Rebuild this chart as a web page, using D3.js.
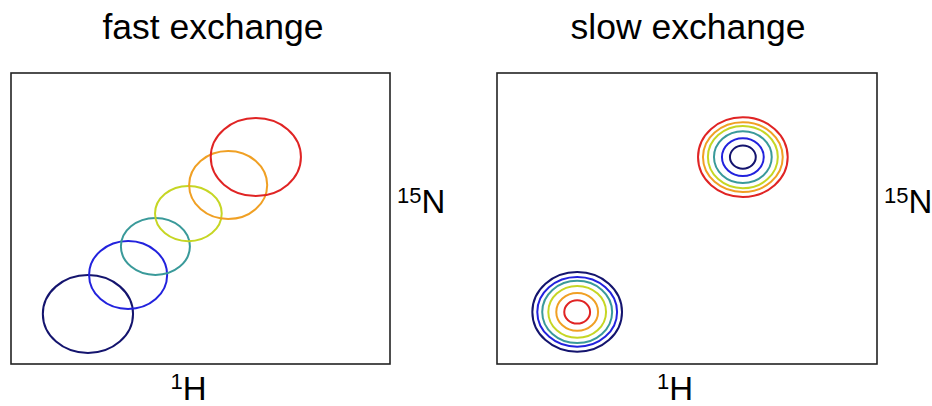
<!DOCTYPE html>
<html lang="en">
<head>
<meta charset="UTF-8">
<title>fast / slow exchange</title>
<script src="https://cdnjs.cloudflare.com/ajax/libs/d3/7.8.5/d3.min.js"></script>
<style>
  body { margin: 0; background: #fff; }
  text { font-family: "Liberation Sans", Arial, sans-serif; fill: #000; }
  .frame { fill: none; stroke: #222; stroke-width: 1.6; }
  .peak { fill: none; stroke-width: 2; }
</style>
</head>
<body>
<div id="chart"></div>
<script>
// spectrum colours, navy -> red
var colors = ["#14146e", "#2222dd", "#3a9a9a", "#c6d624", "#f0a024", "#e02424"];

// fast exchange: one peak per titration step (x, y in 0-100 units, radii too)
var fastX  = [20.3, 30.9, 38.1, 46.8, 57.3, 64.6];
var fastY  = [17.2, 30.6, 40.4, 51.7, 61.5, 71.1];
var fastRx = [11.9, 10.3,  9.1,  8.8, 10.3, 11.9];
var fastRy = [13.4, 11.7,  9.8,  9.5, 11.7, 13.4];

// slow exchange: two peaks, contour radii from outer to inner
var slowPeaks = [{x: 21.1, y: 17.9, reversed: true}, {x: 64.7, y: 71.1, reversed: false}];
var contourRx = [11.8, 10.5, 9.2, 7.6, 5.5, 3.4];
var contourRy = [13.7, 12.0, 10.7, 8.9, 6.5, 4.0];

var titles = ["fast exchange", "slow exchange"];

var W = 932, H = 406;
var svg = d3.select("#chart").append("svg").attr("width", W).attr("height", H);

var panels = [
  {x0: 11, x1: 390, title: titles[0], tx: 213},
  {x0: 497, x1: 877, title: titles[1], tx: 688}
];
var yTop = 73, yBottom = 364;

panels.forEach(function (p, i) {
  var x = d3.scaleLinear().domain([0, 100]).range([p.x0, p.x1]);
  var y = d3.scaleLinear().domain([0, 100]).range([yBottom, yTop]);
  var g = svg.append("g");

  g.append("rect").attr("class", "frame")
    .attr("x", p.x0).attr("y", yTop)
    .attr("width", p.x1 - p.x0).attr("height", yBottom - yTop);

  g.append("text").attr("x", p.tx).attr("y", 39)
    .attr("text-anchor", "middle").style("font-size", "35.5px").text(p.title);

  // 1H axis label
  var hx = (p.x0 + p.x1) / 2 - 12;
  var ht = g.append("text").attr("x", hx).attr("y", 400).attr("text-anchor", "middle");
  ht.append("tspan").style("font-size", "22px").attr("dy", "-11").text("1");
  ht.append("tspan").style("font-size", "33px").attr("dy", "11").text("H");

  // 15N axis label
  var nt = g.append("text").attr("x", p.x1 + 7).attr("y", 213);
  nt.append("tspan").style("font-size", "22px").attr("dy", "-10").text("15");
  nt.append("tspan").style("font-size", "33px").attr("dy", "10").text("N");

  var peaks;
  if (i === 0) {
    peaks = fastX.map(function (d, k) {
      return {cx: d, cy: fastY[k], rx: fastRx[k], ry: fastRy[k], c: colors[k]};
    });
  } else {
    peaks = [];
    slowPeaks.forEach(function (sp) {
      contourRx.forEach(function (r, k) {
        // upper peak: red outside; lower peak: navy outside
        var c = sp.reversed ? colors[k] : colors[colors.length - 1 - k];
        peaks.push({cx: sp.x, cy: sp.y, rx: r, ry: contourRy[k], c: c});
      });
    });
  }

  g.selectAll("ellipse.peak").data(peaks).enter().append("ellipse")
    .attr("class", "peak")
    .attr("cx", function (d) { return x(d.cx); })
    .attr("cy", function (d) { return y(d.cy); })
    .attr("rx", function (d) { return x(d.cx + d.rx) - x(d.cx); })
    .attr("ry", function (d) { return y(d.cy) - y(d.cy + d.ry); })
    .style("stroke", function (d) { return d.c; });
});
</script>
</body>
</html>
